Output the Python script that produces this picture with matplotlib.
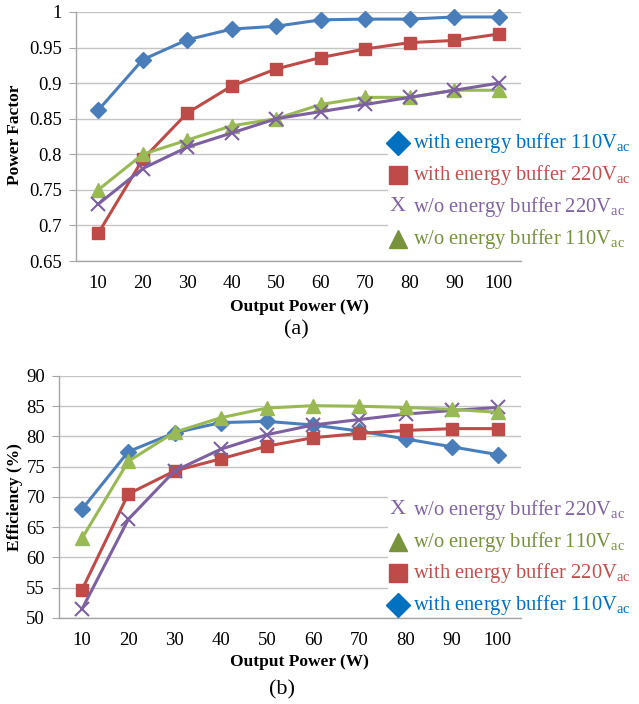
import matplotlib
matplotlib.use("Agg")
import matplotlib.pyplot as plt
from matplotlib.lines import Line2D
from matplotlib.patches import Rectangle

plt.rcParams['font.family'] = ['Liberation Serif', 'DejaVu Serif']
plt.rcParams['mathtext.fontset'] = 'custom'
plt.rcParams['mathtext.rm'] = 'Liberation Serif'
plt.rcParams['mathtext.it'] = 'Liberation Serif:italic'

power = [10, 20, 30, 40, 50, 60, 70, 80, 90, 100]

# (a) Power factor
pf_eb_110 = [0.862, 0.933, 0.961, 0.976, 0.980, 0.989, 0.990, 0.990, 0.993, 0.993]
pf_eb_220 = [0.689, 0.793, 0.858, 0.896, 0.920, 0.936, 0.948, 0.957, 0.960, 0.969]
pf_wo_220 = [0.73, 0.78, 0.81, 0.83, 0.85, 0.86, 0.87, 0.88, 0.89, 0.90]
pf_wo_110 = [0.75, 0.80, 0.82, 0.84, 0.85, 0.87, 0.88, 0.88, 0.89, 0.89]

# (b) Efficiency (%)
ef_eb_110 = [68.0, 77.5, 80.6, 82.3, 82.5, 81.9, 80.9, 79.6, 78.3, 77.0]
ef_eb_220 = [54.7, 70.5, 74.3, 76.3, 78.4, 79.8, 80.5, 81.0, 81.3, 81.3]
ef_wo_220 = [51.5, 66.3, 74.3, 77.9, 80.3, 81.9, 82.8, 83.7, 84.3, 84.8]
ef_wo_110 = [63.2, 75.9, 80.7, 83.1, 84.7, 85.1, 85.0, 84.8, 84.5, 84.0]

lab_eb_110 = r'with energy buffer 110V$_{\mathrm{ac}}$'
lab_eb_220 = r'with energy buffer 220V$_{\mathrm{ac}}$'
lab_wo_220 = r'w/o energy buffer 220V$_{\mathrm{ac}}$'
lab_wo_110 = r'w/o energy buffer 110V$_{\mathrm{ac}}$'

C_BLUE, C_RED, C_PURPLE, C_GREEN = '#4A7EBB', '#BE4B48', '#7D60A0', '#98B954'
L_BLUE, L_RED, L_PURPLE, L_GREEN = '#0070C0', '#C0504D', '#8064A2', '#76923C'

W, H = 639, 704
fig = plt.figure(figsize=(W / 100, H / 100), dpi=100)


def fx(px):
    return px / W


def fy(py):
    return 1 - py / H


def make_ax(left, right, top, bottom):
    return fig.add_axes([fx(left), fy(bottom), fx(right) - fx(left), fy(top) - fy(bottom)])


def style(ax, ylim, yticks, yfmt):
    ax.set_xlim(5, 105)
    ax.set_ylim(*ylim)
    ax.set_xticks(power)
    ax.set_xticklabels([str(p) for p in power])
    ax.set_yticks(yticks)
    ax.set_yticklabels([yfmt(v) for v in yticks])
    ax.grid(axis='y', color='#C4C4C4', linewidth=1.0)
    ax.set_axisbelow(True)
    for s in ['top', 'right']:
        ax.spines[s].set_visible(False)
    for s in ['left', 'bottom']:
        ax.spines[s].set_color('#A6A6A6')
        ax.spines[s].set_linewidth(1.0)
    ax.tick_params(axis='x', length=0, pad=10, labelsize=13.5)
    ax.tick_params(axis='y', length=5, color='#A6A6A6', pad=5, labelsize=13.5)


def plot_series(ax, series):
    for y, c, m, ms in series:
        ax.plot(power, y, color=c, marker=m, markersize=ms, linewidth=2.2,
                markeredgecolor=c, markerfacecolor=c, markeredgewidth=1.5 if m == 'x' else 1.0,
                clip_on=False, zorder=3)


def legend(entries, top_px, bottom_px, ys):
    fig.add_artist(Rectangle((fx(388), fy(bottom_px)), fx(639) - fx(388), fy(top_px) - fy(bottom_px),
                             transform=fig.transFigure, facecolor='white', edgecolor='none', zorder=5))
    for (label, mcol, tcol, m), ypx in zip(entries, ys):
        if m == 'X':
            fig.text(fx(398), fy(ypx), 'X', color=mcol, fontsize=16, ha='center', va='center', zorder=6)
        else:
            fig.add_artist(Line2D([fx(398)], [fy(ypx)], transform=fig.transFigure, marker=m,
                                  markersize={'D': 12, 's': 13, '^': 13}[m], color=mcol,
                                  linestyle='none', zorder=6))
        fig.text(fx(413), fy(ypx), label, color=tcol, fontsize=14.8, ha='left', va='center', zorder=6)


# ---- (a)
ax1 = make_ax(76, 521, 12, 261)
pf_ticks = [0.65, 0.7, 0.75, 0.8, 0.85, 0.9, 0.95, 1.0]
style(ax1, (0.65, 1.0), pf_ticks, lambda v: '1' if v == 1.0 else f'{v:g}')
plot_series(ax1, [
    (pf_eb_110, C_BLUE, 'D', 8.5),
    (pf_eb_220, C_RED, 's', 9),
    (pf_wo_110, C_GREEN, '^', 10),
    (pf_wo_220, C_PURPLE, 'x', 10),
])
fig.text(fx(15), fy(135), 'Power Factor', rotation=90, fontsize=12.5, fontweight='bold',
         ha='center', va='center')
fig.text(fx(299), fy(307), 'Output Power (W)', fontsize=12.5, fontweight='bold', ha='center', va='center')
fig.text(fx(296), fy(330), '(a)', fontsize=16, ha='center', va='center')
legend([
    (lab_eb_110, L_BLUE, L_BLUE, 'D'),
    (lab_eb_220, C_RED, L_RED, 's'),
    (lab_wo_220, L_PURPLE, L_PURPLE, 'X'),
    (lab_wo_110, '#77933C', L_GREEN, '^'),
], 124, 256, [143, 175, 207, 239])

# ---- (b)
ax2 = make_ax(59, 521, 376, 618)
ef_ticks = [50, 55, 60, 65, 70, 75, 80, 85, 90]
style(ax2, (50, 90), ef_ticks, lambda v: f'{v:d}')
plot_series(ax2, [
    (ef_eb_110, C_BLUE, 'D', 8.5),
    (ef_eb_220, C_RED, 's', 9),
    (ef_wo_220, C_PURPLE, 'x', 10),
    (ef_wo_110, C_GREEN, '^', 10),
])
fig.text(fx(15), fy(497), 'Efficiency (%)', rotation=90, fontsize=12.5, fontweight='bold',
         ha='center', va='center')
fig.text(fx(299), fy(662), 'Output Power (W)', fontsize=12.5, fontweight='bold', ha='center', va='center')
fig.text(fx(282), fy(690), '(b)', fontsize=16, ha='center', va='center')
legend([
    (lab_wo_220, L_PURPLE, L_PURPLE, 'X'),
    (lab_wo_110, '#77933C', L_GREEN, '^'),
    (lab_eb_220, C_RED, L_RED, 's'),
    (lab_eb_110, L_BLUE, L_BLUE, 'D'),
], 470, 615, [510, 542, 573, 605])

fig.savefig('out.png', dpi=100, facecolor='white')
